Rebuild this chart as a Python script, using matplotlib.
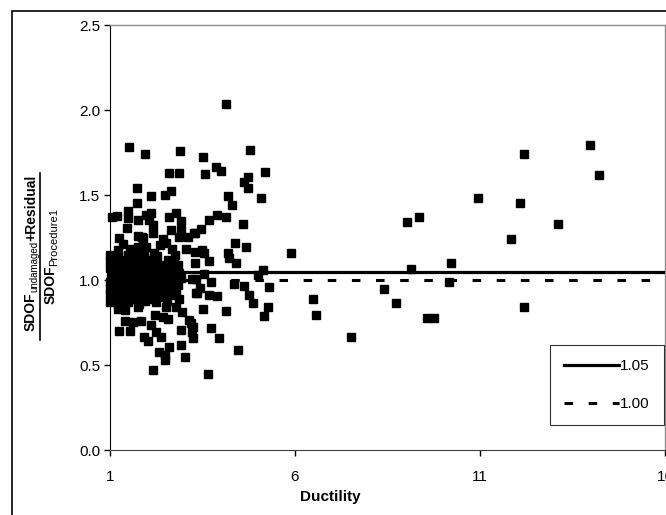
"""
Scatter of SDOF ratio vs ductility with 1.05 / 1.00 reference lines
"""
import matplotlib
matplotlib.use('Agg')
import matplotlib.pyplot as plt
from matplotlib.patches import Rectangle
from matplotlib.lines import Line2D

plt.rcParams['font.family'] = ['Liberation Sans', 'DejaVu Sans']

W, H = 666, 515

# sparse points (ductility > 3.3)
duct_sparse = [13.98, 14.23, 12.20, 10.96, 12.07, 13.12, 11.84, 9.03, 9.34, 9.13, 10.23, 10.15,
               8.42, 8.74, 9.58, 9.76, 12.20, 5.90, 6.48, 6.58, 7.51,
               4.14, 3.51, 4.78, 3.58, 3.86, 4.01, 5.19, 4.74, 4.63, 4.74, 5.09, 4.18, 4.31,
               3.90, 4.14, 3.68, 3.46, 3.31, 4.60, 4.39, 4.67, 3.48, 3.53, 4.18, 4.22, 3.69,
               4.40, 3.31, 5.14, 4.99, 3.55, 3.33, 3.72, 3.44, 3.33, 4.36, 4.63, 5.31, 3.69,
               3.90, 4.76, 4.88, 3.51, 4.14, 5.27, 5.17, 3.72, 3.96, 4.45, 3.64]
ratio_sparse = [1.794, 1.618, 1.741, 1.486, 1.455, 1.329, 1.239, 1.339, 1.369, 1.063, 1.098, 0.990,
                0.945, 0.867, 0.775, 0.775, 0.843, 1.161, 0.888, 0.796, 0.665,
                2.035, 1.727, 1.765, 1.627, 1.665, 1.641, 1.635, 1.604, 1.575, 1.539, 1.486, 1.494, 1.439,
                1.386, 1.369, 1.355, 1.300, 1.275, 1.331, 1.216, 1.192, 1.176, 1.157, 1.157, 1.131, 1.114,
                1.098, 1.098, 1.059, 1.029, 1.035, 1.006, 0.990, 0.955, 0.922, 0.975, 0.967, 0.961, 0.912,
                0.906, 0.912, 0.867, 0.833, 0.820, 0.843, 0.788, 0.720, 0.657, 0.588, 0.447]

# upper band of the cluster
duct_upper = [1.52, 1.95, 2.90, 2.61, 2.86, 1.73, 2.50, 2.65, 2.12, 1.73, 1.49, 1.06, 1.20, 1.49,
              1.76, 1.97, 2.12, 2.06, 2.16, 2.59, 2.79, 2.91, 1.45, 1.88, 1.76, 2.16, 2.66, 2.93,
              2.43, 1.24, 3.10, 3.28, 1.22, 1.54, 1.76, 1.98, 2.20, 2.67, 2.77, 3.06, 3.30, 1.90,
              2.88, 1.36, 2.35, 2.52]
ratio_upper = [1.782, 1.741, 1.759, 1.633, 1.633, 1.539, 1.498, 1.525, 1.494, 1.455, 1.408, 1.369, 1.376, 1.363,
               1.353, 1.382, 1.396, 1.353, 1.324, 1.369, 1.396, 1.347, 1.308, 1.255, 1.259, 1.278, 1.294, 1.294,
               1.239, 1.247, 1.251, 1.275, 1.176, 1.186, 1.192, 1.192, 1.157, 1.186, 1.147, 1.186, 1.167, 1.250,
               1.255, 1.210, 1.205, 1.220]

# lower band of the cluster
duct_lower = [2.52, 2.79, 2.94, 1.22, 1.40, 1.76, 2.21, 2.43, 2.57, 1.40, 1.63, 1.85, 2.12, 1.24,
              1.54, 2.25, 2.39, 2.91, 3.18, 3.21, 1.92, 2.03, 2.61, 2.91, 2.34, 2.48, 2.50, 3.03,
              2.16, 3.24, 3.24, 3.15, 2.79, 3.21, 2.91, 3.36, 2.48]
ratio_lower = [0.843, 0.843, 0.814, 0.833, 0.824, 0.843, 0.794, 0.784, 0.774, 0.759, 0.751, 0.759, 0.735, 0.700,
               0.700, 0.696, 0.667, 0.706, 0.745, 0.696, 0.667, 0.641, 0.608, 0.618, 0.575, 0.559, 0.529, 0.549,
               0.471, 0.657, 0.725, 0.765, 0.935, 1.006, 1.014, 0.927, 0.931]

# dense core near ductility 1-3
duct_core = [1.00, 1.00, 1.01, 1.00, 1.02, 1.00, 1.01, 1.00, 1.02,
             1.11, 1.09, 1.12, 1.10, 1.08, 1.12, 1.11,
             1.21, 1.18, 1.22, 1.19, 1.23, 1.20, 1.17, 1.22,
             1.34, 1.37, 1.33, 1.36, 1.35, 1.38, 1.32,
             1.49, 1.52, 1.48, 1.51, 1.50, 1.47, 1.53, 1.49,
             1.64, 1.66, 1.63, 1.67, 1.65, 1.62, 1.68,
             1.79, 1.82, 1.80, 1.77, 1.81, 1.83, 1.78,
             1.94, 1.97, 1.93, 1.96, 1.95, 1.98, 1.92,
             2.09, 2.12, 2.08, 2.11, 2.10, 2.13,
             2.24, 2.27, 2.23, 2.26, 2.22, 2.25, 2.28,
             2.41, 2.38, 2.42, 2.39, 2.43,
             2.55, 2.58, 2.53, 2.57, 2.54, 2.56,
             2.71, 2.68, 2.73, 2.70, 2.72,
             2.86, 2.84, 2.88, 2.85]
ratio_core = [0.87, 0.91, 0.95, 0.99, 1.03, 1.07, 1.11, 1.15, 1.13,
              0.89, 0.93, 0.97, 1.01, 1.05, 1.09, 1.14,
              0.86, 0.90, 0.94, 0.98, 1.02, 1.06, 1.10, 1.14,
              0.88, 0.92, 0.96, 1.00, 1.04, 1.08, 1.12,
              0.87, 0.91, 0.95, 0.99, 1.03, 1.07, 1.11, 1.15,
              0.89, 0.93, 0.97, 1.01, 1.05, 1.10, 1.14,
              0.86, 0.90, 0.95, 0.99, 1.03, 1.08, 1.12,
              0.88, 0.92, 0.96, 1.01, 1.06, 1.10, 1.15,
              0.89, 0.94, 0.98, 1.03, 1.08, 1.12,
              0.87, 0.91, 0.96, 1.00, 1.05, 1.10, 1.14,
              0.90, 0.95, 0.99, 1.04, 1.09,
              0.88, 0.93, 0.98, 1.02, 1.07, 1.12,
              0.91, 0.96, 1.01, 1.06, 1.10,
              0.89, 0.97, 1.04, 1.09]

duct = duct_sparse + duct_upper + duct_lower + duct_core
ratio = ratio_sparse + ratio_upper + ratio_lower + ratio_core

line_levels = [1.05, 1.00]
line_labels = ['1.05', '1.00']
x_ticks = [1, 6, 11, 16]
y_ticks = [0.0, 0.5, 1.0, 1.5, 2.0, 2.5]

fig = plt.figure(figsize=(W / 100, H / 100), dpi=100)
fig.patch.set_facecolor('white')
ax = fig.add_axes([0.165, 0.126, 0.8335, 0.8252])

ax.plot(duct, ratio, linestyle='none', marker='s', markersize=5.8,
        color='black', zorder=3, clip_on=False)
ax.axhline(line_levels[0], color='black', lw=2.3, zorder=4)
ax.axhline(line_levels[1], color='black', lw=2.2, dashes=(2.8, 5.1), zorder=4)

ax.set_xlim(1, 16)
ax.set_ylim(0, 2.5)
ax.set_xticks(x_ticks)
ax.set_yticks(y_ticks)
ax.set_yticklabels(['%.1f' % v for v in y_ticks])
ax.tick_params(axis='both', direction='out', length=4, width=1, labelsize=11)
ax.tick_params(axis='x', pad=10)
ax.tick_params(axis='y', pad=3)

for side in ('top', 'right'):
    ax.spines[side].set_color('#8c8c8c')
    ax.spines[side].set_linewidth(1)
ax.spines['left'].set_color('black')
ax.spines['bottom'].set_color('#404040')

fig.text(330 / W, 1 - 497 / H, 'Ductility', ha='center', va='center',
         fontsize=11, fontweight='bold')

# y label drawn as a fraction, piece by piece so the subscripts can be small
renderer = fig.canvas.get_renderer()


def rotated_label(baseline_x, center_y, parts):
    texts = []
    for txt, size, weight, shift in parts:
        t = fig.text(0, 0, txt, rotation=90, rotation_mode='anchor',
                     ha='left', va='baseline', fontsize=size, fontweight=weight)
        texts.append((t, shift))
    lengths = [t.get_window_extent(renderer).height for t, _ in texts]
    y = (H - center_y) - sum(lengths) / 2
    for (t, shift), length in zip(texts, lengths):
        t.set_position(((baseline_x + shift) / W, y / H))
        y += length


rotated_label(35, 253, [('SDOF', 10, 'bold', 0), ('undamaged', 7, 'normal', 2),
                        ('+Residual', 10, 'bold', 0)])
rotated_label(55, 256, [('SDOF', 10, 'bold', 0), ('Procedure1', 8, 'normal', 2)])
fig.add_artist(Line2D([40 / W, 40 / W], [1 - 173 / H, 1 - 340 / H],
                      color='black', lw=1.2, transform=fig.transFigure))

handles = [Line2D([], [], color='black', lw=2.3),
           Line2D([], [], color='black', lw=2.2, dashes=(2.8, 5.1))]
leg = ax.legend(handles, line_labels, loc='upper left', bbox_to_anchor=(0.793, 0.247),
                fontsize=11, frameon=True, fancybox=False, handlelength=3.6,
                handletextpad=0.1, labelspacing=1.6, borderpad=0.9, borderaxespad=0)
leg.get_frame().set_edgecolor('black')
leg.get_frame().set_linewidth(0.8)

# outer chart border
fig.patches.append(Rectangle((12 / W, -0.05), 1.0, 0.05 + 1 - 11 / H,
                             transform=fig.transFigure, fill=False,
                             edgecolor='black', lw=1.2))

plt.savefig('out.png', dpi=100, facecolor=fig.get_facecolor())
plt.close()
